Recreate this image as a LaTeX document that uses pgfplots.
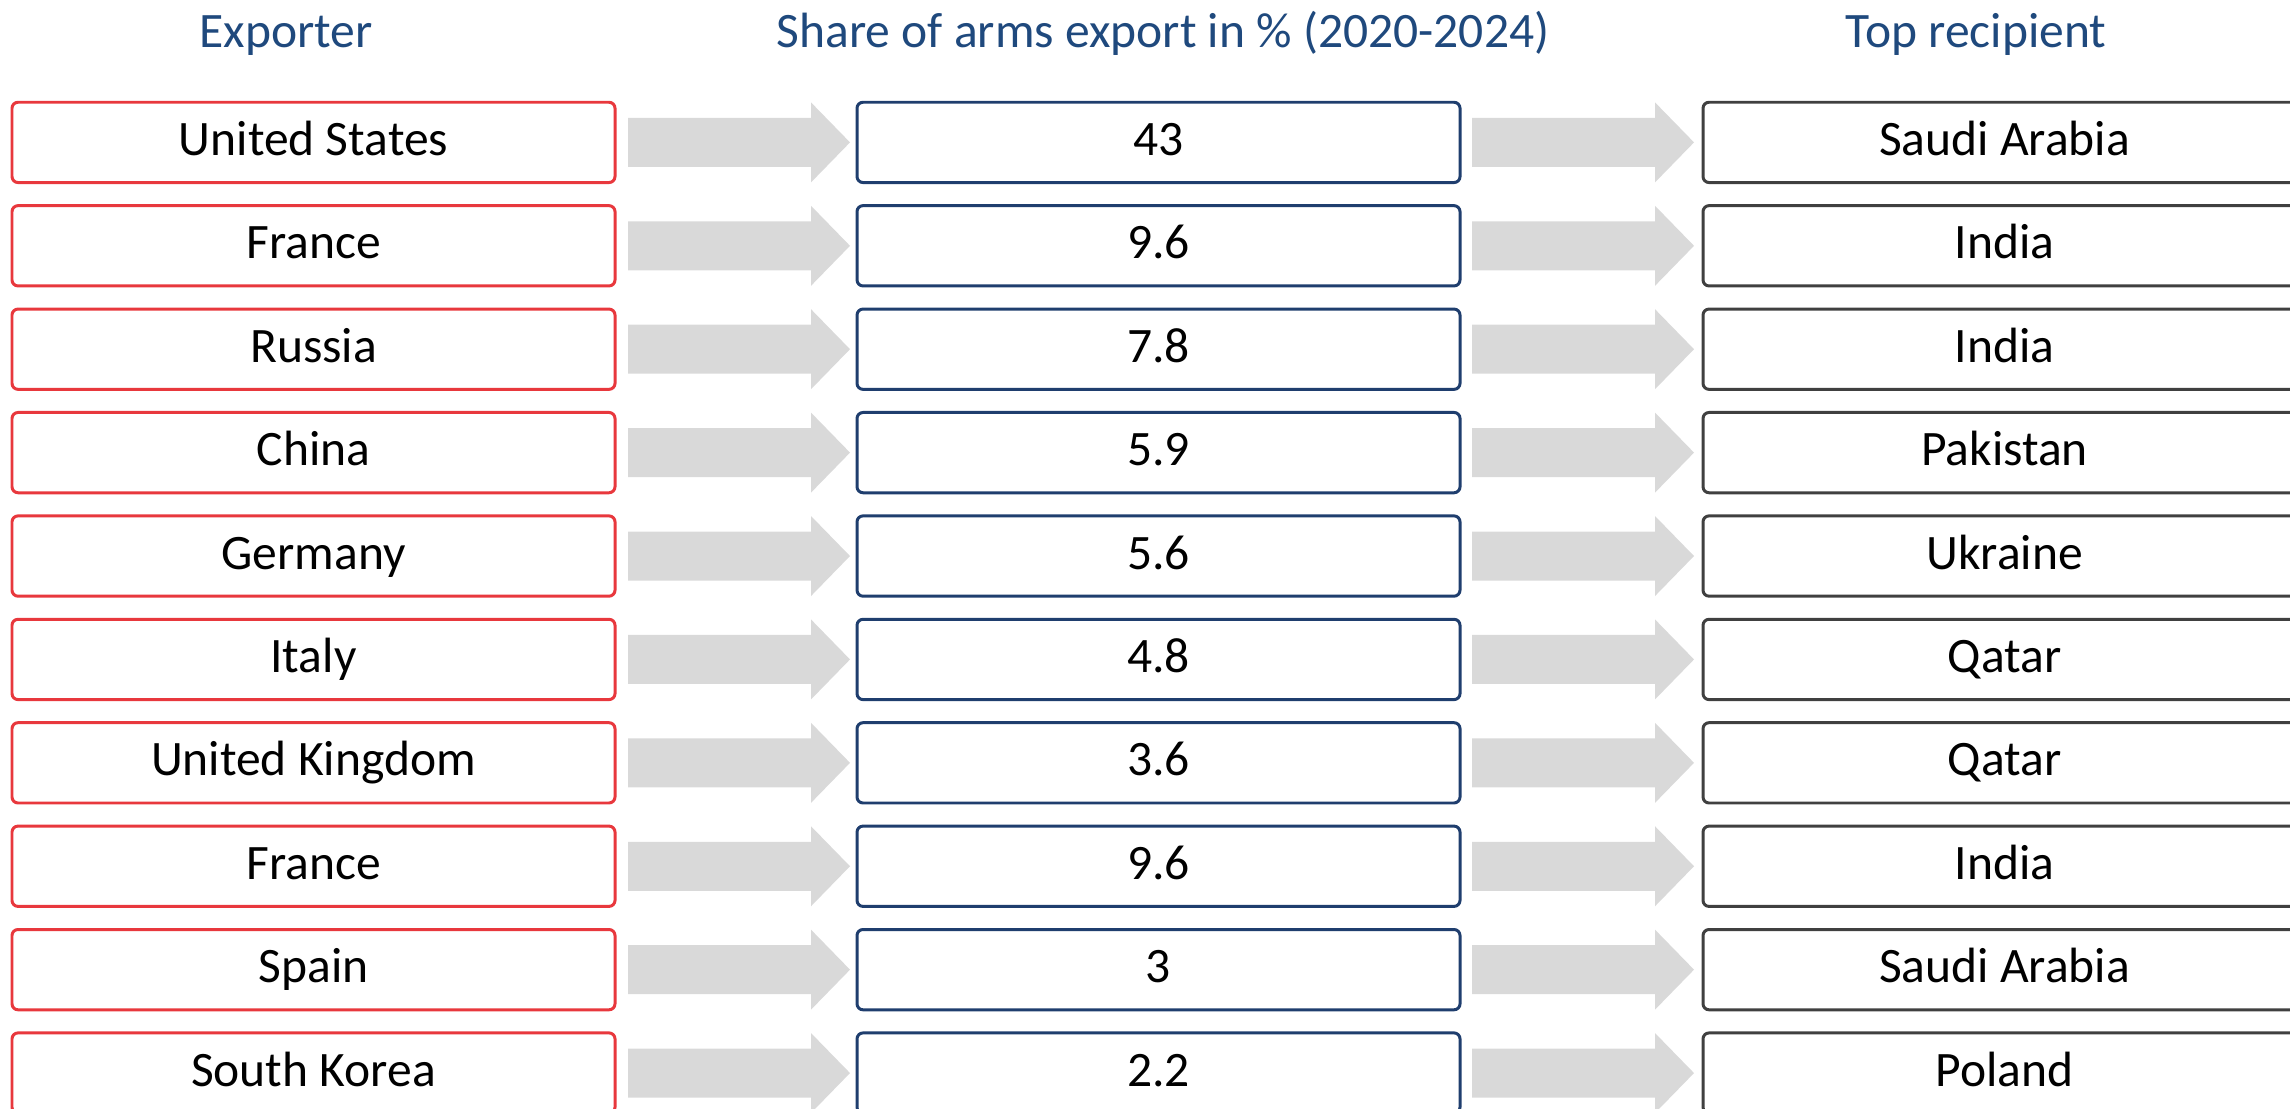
\documentclass[border=0pt]{standalone}
\usepackage{pgfplots}
\pgfplotsset{compat=1.18}
\usepackage{pgfplotstable}
\usepackage{fontspec}
\setmainfont{Carlito}
\definecolor{boxred}{HTML}{E8383D}
\definecolor{boxblue}{HTML}{1F3E6E}
\definecolor{boxgray}{HTML}{404040}
\definecolor{titleblue}{HTML}{1F497D}
\definecolor{arrowgray}{HTML}{D9D9D9}

\pgfdeclareplotmark{rarrow}{%
  \pgfpathmoveto{\pgfpoint{-11.1mm}{2.45mm}}%
  \pgfpathlineto{\pgfpoint{7.2mm}{2.45mm}}%
  \pgfpathlineto{\pgfpoint{7.2mm}{4.0mm}}%
  \pgfpathlineto{\pgfpoint{11.1mm}{0mm}}%
  \pgfpathlineto{\pgfpoint{7.2mm}{-4.0mm}}%
  \pgfpathlineto{\pgfpoint{7.2mm}{-2.45mm}}%
  \pgfpathlineto{\pgfpoint{-11.1mm}{-2.45mm}}%
  \pgfpathclose
  \pgfusepathqfill}
\pgfdeclareplotmark{nomark}{}

\tikzset{cbox/.style={draw=#1, line width=0.85pt, rounded corners=0.6mm, fill=white,
  minimum width=60.3mm, minimum height=8.03mm, inner sep=0pt,
  text height=3.2mm, text depth=0.6mm,
  font=\fontsize{14.1}{16}\selectfont, text=black, anchor=center}}

\pgfplotstableread[col sep=comma]{
row,exporter,share,recipient
0,United States,43,Saudi Arabia
1,France,9.6,India
2,Russia,7.8,India
3,China,5.9,Pakistan
4,Germany,5.6,Ukraine
5,Italy,4.8,Qatar
6,United Kingdom,3.6,Qatar
7,France,9.6,India
8,Spain,3,Saudi Arabia
9,South Korea,2.2,Poland
}\arms

\begin{document}
\begin{tikzpicture}
\path[use as bounding box, clip] (0,0) rectangle (229mm,110.8mm);
\begin{axis}[at={(0,0)}, anchor=south west, scale only axis,
  width=229mm, height=110.8mm, hide axis,
  xmin=0, xmax=2290, ymin=-1.377, ymax=9.338, y dir=reverse, clip=false]
\addplot[only marks, mark=rarrow, color=arrowgray] table[x expr=739, y=row]{\arms};
\addplot[only marks, mark=rarrow, color=arrowgray] table[x expr=1583, y=row]{\arms};
\addplot[scatter, only marks, mark=nomark, point meta=explicit symbolic,
  scatter/@pre marker code/.code={\node[cbox=boxred]{\pgfplotspointmeta};},
  scatter/@post marker code/.code={}]
  table[x expr=313.5, y=row, meta=exporter]{\arms};
\addplot[scatter, only marks, mark=nomark, point meta=explicit symbolic,
  scatter/@pre marker code/.code={\node[cbox=boxblue]{\pgfplotspointmeta};},
  scatter/@post marker code/.code={}]
  table[x expr=1158.5, y=row, meta=share]{\arms};
\addplot[scatter, only marks, mark=nomark, point meta=explicit symbolic,
  scatter/@pre marker code/.code={\node[cbox=boxgray]{\pgfplotspointmeta};},
  scatter/@post marker code/.code={}]
  table[x expr=2004.5, y=row, meta=recipient]{\arms};
\node[anchor=base, text=titleblue, font=\fontsize{14.1}{16}\selectfont] at (axis cs:286,-0.913) {Exporter};
\node[anchor=base, text=titleblue, font=\fontsize{14.1}{16}\selectfont] at (axis cs:1163,-0.913) {Share of arms export in \% (2020-2024)};
\node[anchor=base, text=titleblue, font=\fontsize{14.1}{16}\selectfont] at (axis cs:1976,-0.913) {Top recipient};
\end{axis}
\end{tikzpicture}
\end{document}
